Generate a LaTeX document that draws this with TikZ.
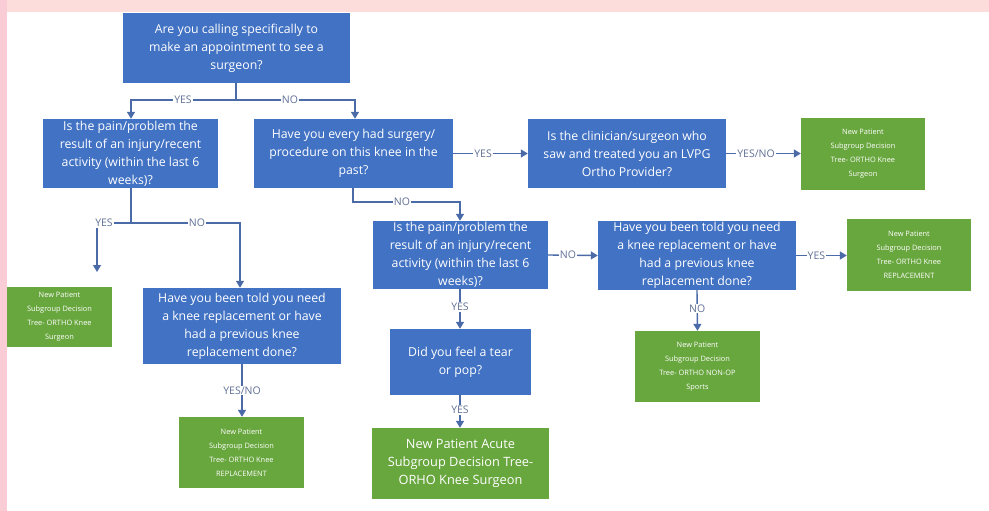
\documentclass[tikz,border=0pt]{standalone}
\usepackage{fontspec}
\setmainfont{Open Sans}
\usetikzlibrary{arrows.meta}
\definecolor{qblue}{RGB}{66,114,196}
\definecolor{rgreen}{RGB}{104,166,62}
\definecolor{lineblue}{RGB}{74,106,168}
\definecolor{lbltext}{RGB}{96,112,150}
\definecolor{pinktop}{RGB}{253,220,220}
\definecolor{pinkleft}{RGB}{249,204,214}
\tikzset{
  qbox/.style={fill=qblue, text=white, align=center, inner sep=0pt,
    font=\fontsize{12.3}{18}\selectfont},
  rbox/.style={fill=rgreen, text=white, align=center, inner sep=0pt,
    font=\fontsize{7.4}{14}\selectfont},
  rbig/.style={fill=rgreen, text=white, align=center, inner sep=0pt,
    font=\fontsize{12.8}{18}\selectfont},
  conn/.style={draw=lineblue, line width=1.4pt},
  arr/.style={conn, -{Triangle[width=8pt,length=7pt]}},
  lbl/.style={fill=white, text=lbltext, inner sep=1pt, font=\fontsize{10.5}{12}\selectfont}
}
\begin{document}
\begin{tikzpicture}[x=1pt,y=-1pt]
\useasboundingbox (0,0) rectangle (989,511);
\fill[white] (0,0) rectangle (989,511);
\fill[pinktop] (0,0) rectangle (989,12);
\fill[pinkleft] (0,0) rectangle (7,511);

% question boxes
\node[qbox, minimum width=227pt, minimum height=70pt] (q1) at (236.5,48) {Are you calling specifically to\\make an appointment to see a\\surgeon?};
\node[qbox, minimum width=175pt, minimum height=69pt] (q2) at (130.5,153.5) {Is the pain/problem the\\result of an injury/recent\\activity (within the last 6\\weeks)?};
\node[qbox, minimum width=199pt, minimum height=69pt] (q3) at (353.5,153.5) {Have you every had surgery/\\procedure on this knee in the\\past?};
\node[qbox, minimum width=198pt, minimum height=69pt] (q6) at (627,153.5) {Is the clinician/surgeon who\\saw and treated you an LVPG\\Ortho Provider?};
\node[qbox, minimum width=198pt, minimum height=76pt] (q4) at (242,326) {Have you been told you need\\a knee replacement or have\\had a previous knee\\replacement done?};
\node[qbox, minimum width=175pt, minimum height=68pt] (q5) at (460.5,255) {Is the pain/problem the\\result of an injury/recent\\activity (within the last 6\\weeks)?};
\node[qbox, minimum width=141pt, minimum height=66pt] (q7) at (460.5,362) {Did you feel a tear\\or pop?};
\node[qbox, minimum width=198pt, minimum height=69pt] (q8) at (697,255.5) {Have you been told you need\\a knee replacement or have\\had a previous knee\\replacement done?};

% result boxes
\node[rbox, minimum width=124pt, minimum height=72pt] (g2) at (863,154) {New Patient\\Subgroup Decision\\Tree- ORTHO Knee\\Surgeon};
\node[rbox, minimum width=105pt, minimum height=60pt] (g1) at (59.5,317) {New Patient\\Subgroup Decision\\Tree- ORTHO Knee\\Surgeon};
\node[rbox, minimum width=125pt, minimum height=71pt] (g3) at (241.5,452.5) {New Patient\\Subgroup Decision\\Tree- ORTHO Knee\\REPLACEMENT};
\node[rbig, minimum width=177pt, minimum height=71pt] (g4) at (460.5,463.5) {New Patient Acute\\Subgroup Decision Tree-\\ORHO Knee Surgeon};
\node[rbox, minimum width=124pt, minimum height=72pt] (g5) at (909,255) {New Patient\\Subgroup Decision\\Tree- ORTHO Knee\\REPLACEMENT};
\node[rbox, minimum width=125pt, minimum height=71pt] (g6) at (697.5,366.5) {New Patient\\Subgroup Decision\\Tree- ORTHO NON-OP\\Sports};

% junction coordinates
\coordinate (j1) at (236,100);
\coordinate (j2) at (131,223);
\coordinate (j3) at (353,202);
\coordinate (e1) at (97,272);

% connectors
\draw[conn] (q1.south -| j1) -- (j1);
\draw[arr] (j1) -- (131,100) -- (q2.north -| 131,0);
\draw[arr] (j1) -- (355,100) -- (q3.north -| 355,0);
\node[lbl] at (183,100) {YES};
\node[lbl] at (290,100) {NO};

\draw[conn] (q2.south -| j2) -- (j2);
\draw[arr] (j2) -- (97,223) -- (e1);
\draw[arr] (j2) -- (240,223) -- (q4.north -| 240,0);
\node[lbl] at (104,223) {YES};
\node[lbl] at (197,223) {NO};

\draw[arr] (q3.south -| j3) -- (j3) -- (460,202) -- (q5.north -| 460,0);
\node[lbl] at (402,202) {NO};

\draw[arr] (q3.east) -- node[lbl, pos=0.4] {YES} (q6.west);
\draw[arr] (q6.east) -- node[lbl, pos=0.4] {YES/NO} (q6.east -| g2.west);
\draw[arr] (q4.south -| 242,0) -- node[lbl, pos=0.5] {YES/NO} (g3.north -| 242,0);
\draw[arr] (q5.south -| 460,0) -- node[lbl, pos=0.45] {YES} (q7.north -| 460,0);
\draw[arr] (q7.south -| 460,0) -- node[lbl, pos=0.45] {YES} (g4.north -| 460,0);
\draw[arr] (q5.east) -- node[lbl, pos=0.4] {NO} (q8.west);
\draw[arr] (q8.east) -- node[lbl, pos=0.4] {YES} (q8.east -| g5.west);
\draw[arr] (q8.south) -- node[lbl, pos=0.45] {NO} (g6.north);
\end{tikzpicture}
\end{document}
